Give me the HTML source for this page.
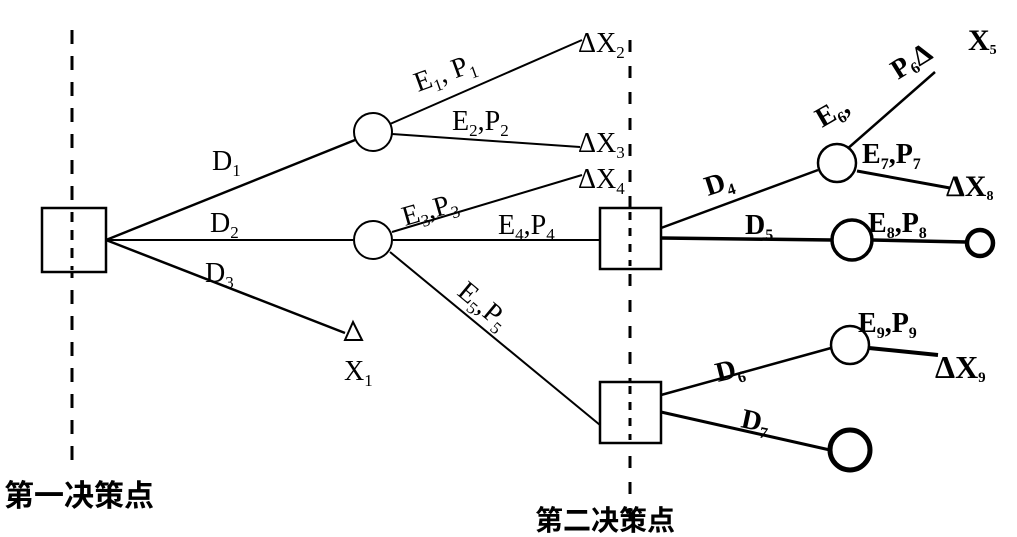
<!DOCTYPE html>
<html><head><meta charset="utf-8"><style>
html,body{margin:0;padding:0;background:#fff;}
svg{display:block}
text{font-family:"Liberation Serif","Noto Serif CJK SC",serif;fill:#000}
.b{font-weight:bold}
.cjk{font-family:"Liberation Sans","Noto Sans CJK SC",sans-serif;font-weight:bold}
</style></head><body>
<svg width="1017" height="537" viewBox="0 0 1017 537" xmlns="http://www.w3.org/2000/svg">
<g stroke="#000" fill="none">
<line x1="72" y1="30" x2="72" y2="460" stroke-width="3" stroke-dasharray="14,12"/>
<line x1="630" y1="40" x2="630" y2="530" stroke-width="3" stroke-dasharray="12,14"/>
<line x1="106" y1="240" x2="355" y2="140" stroke-width="2.5"/>
<line x1="106" y1="240" x2="353" y2="240" stroke-width="2"/>
<line x1="106" y1="240" x2="345" y2="333" stroke-width="2.5"/>
<line x1="390" y1="124" x2="582" y2="40" stroke-width="2"/>
<line x1="392" y1="134" x2="580" y2="147" stroke-width="2"/>
<line x1="392" y1="232" x2="582" y2="175" stroke-width="2"/>
<line x1="393" y1="240" x2="600" y2="240" stroke-width="2"/>
<line x1="390" y1="252" x2="600" y2="425" stroke-width="2"/>
<line x1="661" y1="228" x2="818" y2="170" stroke-width="2.5"/>
<line x1="661" y1="238" x2="832" y2="240" stroke-width="3.5"/>
<line x1="846" y1="150" x2="935" y2="72" stroke-width="2.5"/>
<line x1="857" y1="171" x2="950" y2="188" stroke-width="3"/>
<line x1="872" y1="240" x2="966" y2="242" stroke-width="3.5"/>
<line x1="661" y1="395" x2="831" y2="348" stroke-width="2.5"/>
<line x1="661" y1="412" x2="830" y2="450" stroke-width="3"/>
<line x1="869" y1="348" x2="938" y2="355" stroke-width="4"/>
<rect x="42" y="208" width="64" height="64" stroke-width="2.5" fill="#fff"/>
<rect x="600" y="208" width="61" height="61" stroke-width="2.5" fill="#fff"/>
<rect x="600" y="382" width="61" height="61" stroke-width="2.5" fill="#fff"/>
<line x1="72" y1="212" x2="72" y2="270" stroke-width="3" stroke-dasharray="10,8"/>
<line x1="630" y1="212" x2="630" y2="266" stroke-width="3" stroke-dasharray="8,8"/>
<line x1="630" y1="386" x2="630" y2="440" stroke-width="3" stroke-dasharray="8,8"/>
<circle cx="373" cy="132" r="19" stroke-width="2" fill="#fff"/>
<circle cx="373" cy="240" r="19" stroke-width="2" fill="#fff"/>
<circle cx="837" cy="163" r="19" stroke-width="2.5" fill="#fff"/>
<circle cx="852" cy="240" r="20" stroke-width="3.5" fill="#fff"/>
<circle cx="980" cy="243" r="13" stroke-width="4.5" fill="#fff"/>
<circle cx="850" cy="345" r="19" stroke-width="2.5" fill="#fff"/>
<circle cx="850" cy="450" r="20" stroke-width="5" fill="#fff"/>
<polygon points="353,322 345,340 362,340" stroke-width="2"/>
</g>
<g font-size="28">
<text x="212" y="170">D<tspan font-size="17" dy="6">1</tspan></text>
<text x="210" y="232">D<tspan font-size="17" dy="6">2</tspan></text>
<text x="205" y="282">D<tspan font-size="17" dy="6">3</tspan></text>
<text x="344" y="380">X<tspan font-size="17" dy="6">1</tspan></text>
<text x="418" y="92" transform="rotate(-20 418 92)">E<tspan font-size="17" dy="6">1</tspan><tspan dy="-6">,  P</tspan><tspan font-size="17" dy="6">1</tspan></text>
<text x="578" y="52">ΔX<tspan font-size="17" dy="6">2</tspan></text>
<text x="452" y="130">E<tspan font-size="17" dy="6">2</tspan><tspan dy="-6">,P</tspan><tspan font-size="17" dy="6">2</tspan></text>
<text x="578" y="152">ΔX<tspan font-size="17" dy="6">3</tspan></text>
<text x="578" y="188">ΔX<tspan font-size="17" dy="6">4</tspan></text>
<text x="405" y="226" transform="rotate(-16 405 226)">E<tspan font-size="17" dy="6">3</tspan><tspan dy="-6">,P</tspan><tspan font-size="17" dy="6">3</tspan></text>
<text x="498" y="234">E<tspan font-size="17" dy="6">4</tspan><tspan dy="-6">,P</tspan><tspan font-size="17" dy="6">4</tspan></text>
<text x="456" y="294" transform="rotate(40 456 294)">E<tspan font-size="17" dy="6">5</tspan><tspan dy="-6">,P</tspan><tspan font-size="17" dy="6">5</tspan></text>
</g>
<g font-size="28" class="b">
<text x="708" y="196" transform="rotate(-18 708 196)">D<tspan font-size="16" dy="6">4</tspan></text>
<text x="745" y="234">D<tspan font-size="16" dy="6">5</tspan></text>
<text x="822" y="128" transform="rotate(-30 822 128)">E<tspan font-size="16" dy="6">6</tspan><tspan dy="-6">,</tspan></text>
<text x="898" y="80" transform="rotate(-32 898 80)">P<tspan font-size="16" dy="4">6</tspan><tspan dy="-4">Δ</tspan></text>
<text x="968" y="50" font-size="30">X<tspan font-size="14" dy="4">5</tspan></text>
<text x="862" y="163">E<tspan font-size="16" dy="6">7</tspan><tspan dy="-6">,P</tspan><tspan font-size="16" dy="6">7</tspan></text>
<text x="946" y="196" font-size="30">ΔX<tspan font-size="14" dy="4">8</tspan></text>
<text x="868" y="232">E<tspan font-size="16" dy="6">8</tspan><tspan dy="-6">,P</tspan><tspan font-size="16" dy="6">8</tspan></text>
<text x="858" y="332">E<tspan font-size="16" dy="6">9</tspan><tspan dy="-6">,P</tspan><tspan font-size="16" dy="6">9</tspan></text>
<text x="935" y="378" font-size="32">ΔX<tspan font-size="15" dy="4">9</tspan></text>
<text x="718" y="382" transform="rotate(-14 718 382)">D<tspan font-size="16" dy="6">6</tspan></text>
<text x="740" y="427" transform="rotate(12 740 427)">D<tspan font-size="16" dy="6">7</tspan></text>
</g>
<text x="4" y="506" font-size="30" class="cjk">第一决策点</text>
<text x="535" y="530" font-size="28" class="cjk">第二决策点</text>
</svg>
</body></html>
